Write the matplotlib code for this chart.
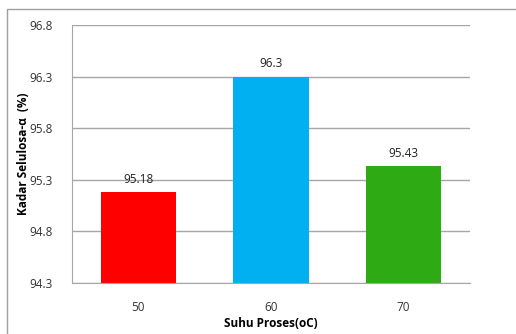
import matplotlib.pyplot as plt
from matplotlib.patches import Rectangle

# data
suhu = ["50", "60", "70"]
kadar = [95.18, 96.3, 95.43]
warna = ["#FF0000", "#00B0F0", "#2EAA14"]
yticks = [94.3, 94.8, 95.3, 95.8, 96.3, 96.8]

plt.rcParams['font.family'] = ['Open Sans', 'DejaVu Sans']

fig = plt.figure(figsize=(5.16, 3.34), dpi=100)
ax = fig.add_axes([72 / 516, 51 / 334, 398 / 516, 258 / 334])

# outer chart frame (left and top edges visible only)
fig.patches.append(Rectangle((7 / 516, -0.1), 1.2, (334 - 9) / 334 + 0.1,
                             transform=fig.transFigure, fill=False,
                             edgecolor="#A0A0A0", linewidth=1.0))

x = range(len(suhu))
ax.bar(x, kadar, width=0.57, color=warna, zorder=2)
for i, v in enumerate(kadar):
    ax.text(i, v + 0.06, f"{v:g}", ha="center", va="bottom", fontsize=8.5, color="#222222")

ax.set_ylim(94.3, 96.8)
ax.set_xlim(-0.5, 2.5)
ax.set_yticks(yticks)
ax.set_yticklabels([f"{t:.1f}" for t in yticks])
ax.set_xticks(list(x))
ax.set_xticklabels(suhu)
ax.grid(axis="y", color="#A6A6A6", linewidth=1.0, zorder=0)
ax.tick_params(axis="y", length=0, pad=14, labelsize=8.5, colors="#333333")
ax.tick_params(axis="x", length=0, pad=13, labelsize=8.5, colors="#333333")
for s in ["top", "right"]:
    ax.spines[s].set_visible(False)
ax.spines["left"].set_color("#A6A6A6")
ax.spines["bottom"].set_color("#A6A6A6")

ax.set_xlabel("Suhu Proses(oC)", fontsize=8.5, fontweight="bold", labelpad=2)
ax.set_ylabel("Kadar Selulosa-α  (%)", fontsize=8.5, fontweight="bold")
ax.yaxis.set_label_coords(-0.105, 0.5)

fig.savefig("out.png", dpi=100)
